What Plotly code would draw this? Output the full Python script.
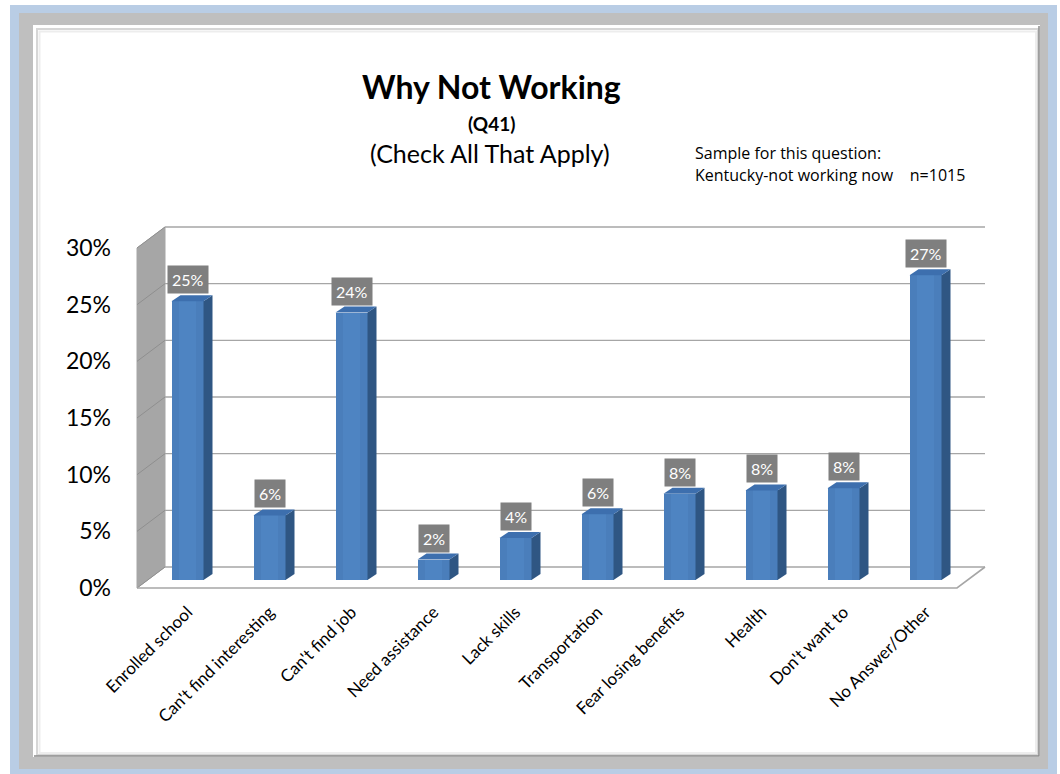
import plotly.graph_objects as go

# ---------------- data ----------------
categories = ["Enrolled school", "Can't find interesting", "Can't find job", "Need assistance",
              "Lack skills", "Transportation", "Fear losing benefits", "Health",
              "Don't want to", "No Answer/Other"]
values = [24.6, 5.7, 23.6, 1.8, 3.7, 5.8, 7.6, 7.9, 8.1, 26.9]
y_ticks = [0, 5, 10, 15, 20, 25, 30]
y_tick_labels = [f"{t}%" for t in y_ticks]

# ---------------- geometry helpers ----------------
W, H = 1060, 774
FONT = "Lato"

def px(x):
    return x / W

def py(y):
    return 1 - y / H

X0PX, STEP = 187.5, 82.0          # first category centre / spacing (pixels)
Y0PX, UNIT = 588.0, 340.0 / 30.0   # 0% pixel / pixels per percent
def xd(p):
    return (p - X0PX) / STEP
def yd(p):
    return (Y0PX - p) / UNIT

DX, DY = xd(165) - xd(137), 21 / UNIT          # depth of the 3D box
XF0, XF1 = xd(137), xd(957)                      # front left / right of the floor
BASE = 8 / UNIT                                  # bar sits mid depth
BW = 32 / STEP                                   # bar front width
SDX, SDY = 9 / STEP, 6 / UNIT                    # bar side depth

xs = list(range(len(categories)))

fig = go.Figure()
fig.add_trace(go.Bar(
    x=xs, y=values, base=BASE, width=BW,
    marker=dict(color="#4a7ebb", line=dict(width=0)),
    hoverinfo="skip", showlegend=False,
))
# subtle highlight in the middle of each front face
fig.add_trace(go.Bar(
    x=xs, y=values, base=BASE, width=BW * 0.55,
    marker=dict(color="#4e84c2", line=dict(width=0)),
    hoverinfo="skip", showlegend=False,
))

shapes = []
# ---- frame (paper) ----
shapes.append(dict(type="rect", xref="paper", yref="paper", x0=px(10), x1=px(1057), y0=py(5), y1=py(774),
                   fillcolor="#b9cde5", line=dict(width=0), layer="below"))
shapes.append(dict(type="rect", xref="paper", yref="paper", x0=px(19), x1=px(1048), y0=py(13), y1=py(769),
                   fillcolor="#bfbfbf", line=dict(width=0), layer="below"))
shapes.append(dict(type="rect", xref="paper", yref="paper", x0=px(33), x1=px(1040), y0=py(25), y1=py(757),
                   fillcolor="#ffffff", line=dict(width=0), layer="below"))
shapes.append(dict(type="rect", xref="paper", yref="paper", x0=px(37), x1=px(1038), y0=py(29), y1=py(755),
                   fillcolor="rgba(0,0,0,0)", line=dict(color="#d6d6d6", width=2), layer="below"))
shapes.append(dict(type="rect", xref="paper", yref="paper", x0=px(39.5), x1=px(1036), y0=py(31.5), y1=py(753),
                   fillcolor="rgba(0,0,0,0)", line=dict(color="#ededed", width=2), layer="below"))
shapes.append(dict(type="path", xref="paper", yref="paper",
                   path=f"M {px(1039)},{py(26)} L {px(1039)},{py(756)} L {px(34)},{py(756)}",
                   line=dict(color="#8c8c8c", width=1.5), layer="below"))

# ---- left wall ----
shapes.append(dict(type="path", xref="x", yref="y",
                   path=f"M {XF0},0 L {XF0 + DX},{DY} L {XF0 + DX},{30 + DY} L {XF0},30 Z",
                   fillcolor="#a6a6a6", line=dict(color="#a6a6a6", width=1), layer="below"))
for t in y_ticks:
    shapes.append(dict(type="line", xref="x", yref="y", x0=XF0, y0=t, x1=XF0 + DX, y1=t + DY,
                       line=dict(color="#8f8f8f", width=1), layer="below"))
# ---- back wall gridlines ----
for t in y_ticks:
    shapes.append(dict(type="line", xref="x", yref="y", x0=XF0 + DX, y0=t + DY, x1=XF1 + DX, y1=t + DY,
                       line=dict(color="#a6a6a6", width=1.3), layer="below"))
# ---- floor ----
shapes.append(dict(type="path", xref="x", yref="y",
                   path=f"M {XF0},0 L {XF1},0 L {XF1 + DX},{DY}",
                   line=dict(color="#a6a6a6", width=1.6), layer="below"))

# ---- bar side & top faces ----
for x, v in zip(xs, values):
    r = x + BW / 2
    l = x - BW / 2
    top = BASE + v
    shapes.append(dict(type="path", xref="x", yref="y",
                       path=f"M {r},{BASE} L {r + SDX},{BASE + SDY} L {r + SDX},{top + SDY} L {r},{top} Z",
                       fillcolor="#2f5683", line=dict(width=0), layer="above"))
    shapes.append(dict(type="path", xref="x", yref="y",
                       path=f"M {l},{top} L {l + SDX},{top + SDY} L {r + SDX},{top + SDY} L {r},{top} Z",
                       fillcolor="#3d6fae", line=dict(width=0), layer="above"))

annotations = []
for x, v in zip(xs, values):
    annotations.append(dict(x=x, y=BASE + v + SDY, xref="x", yref="y", text=f"{round(v)}%",
                            showarrow=False, yanchor="bottom", yshift=1,
                            bgcolor="#7f7f7f", borderpad=4,
                            font=dict(family=FONT, size=16, color="white")))

# ---- titles ----
annotations += [
    dict(x=px(491), y=py(87), xref="paper", yref="paper", text="<b>Why Not Working</b>",
         showarrow=False, yanchor="middle", font=dict(family=FONT, size=32, color="black")),
    dict(x=px(491), y=py(123), xref="paper", yref="paper", text="<b>(Q41)</b>",
         showarrow=False, yanchor="middle", font=dict(family=FONT, size=19, color="black")),
    dict(x=px(490), y=py(153), xref="paper", yref="paper", text="(Check All That Apply)",
         showarrow=False, yanchor="middle", font=dict(family=FONT, size=25, color="black")),
    dict(x=px(693), y=py(153), xref="paper", yref="paper",
         text="Sample for this question:",
         showarrow=False, xanchor="left", yanchor="middle", align="left",
         font=dict(family="Open Sans", size=16, color="black")),
    dict(x=px(693), y=py(175), xref="paper", yref="paper",
         text="Kentucky-not working now\u00a0\u00a0\u00a0\u00a0n=1015",
         showarrow=False, xanchor="left", yanchor="middle", align="left",
         font=dict(family="Open Sans", size=16, color="black")),
]

fig.update_layout(
    template="none",
    width=W, height=H, autosize=False,
    margin=dict(l=0, r=0, t=0, b=0, pad=0, autoexpand=False),
    paper_bgcolor="white", plot_bgcolor="rgba(0,0,0,0)",
    shapes=shapes, annotations=annotations,
    showlegend=False, bargap=0, barmode="overlay",
    xaxis=dict(domain=[px(136), px(988)], range=[xd(136), xd(988)], automargin=False,
               tickmode="array", tickvals=xs, ticktext=categories, tickangle=-45,
               tickfont=dict(family=FONT, size=17, color="black"),
               showgrid=False, zeroline=False, showline=False, ticks="",
               ticklabelstandoff=8),
    yaxis=dict(domain=[py(590), py(225)], range=[yd(590), yd(225)], automargin=False,
               tickmode="array", tickvals=y_ticks, ticktext=y_tick_labels,
               tickfont=dict(family=FONT, size=23, color="black"),
               showgrid=False, zeroline=False, showline=False, ticks="",
               ticklabelstandoff=24),
)

fig.write_html("out.html")
